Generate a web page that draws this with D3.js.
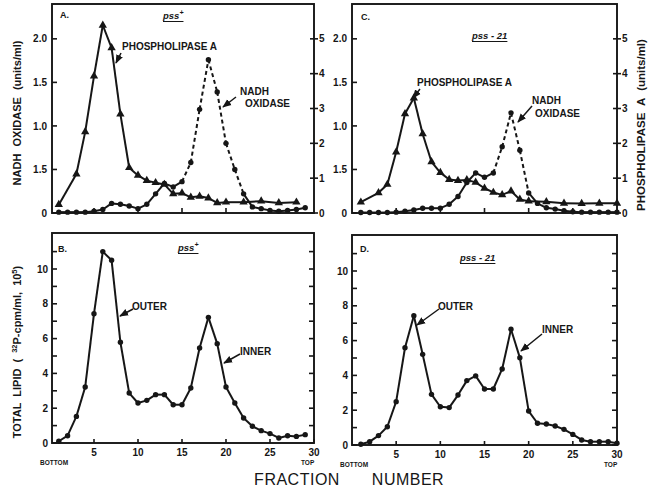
<!DOCTYPE html>
<html><head><meta charset="utf-8">
<script src="https://cdn.jsdelivr.net/npm/d3@7"></script>
<style>
body{margin:0;background:#fff}
svg text{font-family:"Liberation Sans",Arial,Helvetica,sans-serif;fill:#161616}
</style>
</head><body>
<svg id="chart" width="651" height="494"></svg>
<script>
// ---------- data ----------
const plaA_fractions = [1,3,4,5,6,7,8,9,10,11,12,13,14,15,16,17,18,19,20,22,24,26,28];
const plaA_values    = [0.24,1.12,2.33,3.93,5.39,4.74,2.84,1.30,1.08,0.93,0.87,0.82,0.55,0.57,0.45,0.48,0.43,0.29,0.31,0.31,0.34,0.29,0.31];
const nadhA_fractions = d3.range(1,30);
const nadhA_values    = [0.01,0.01,0.01,0.01,0.02,0.04,0.11,0.10,0.08,0.05,0.10,0.22,0.34,0.30,0.36,0.58,1.19,1.76,1.39,0.80,0.50,0.22,0.07,0.05,0.03,0.02,0.03,0.04,0.06];
const nadhA_dashed = [15,22];

const plaC_fractions = [1,3,4,5,6,7,8,9,10,11,12,13,14,15,16,17,18,19,20,22,24,26,28,30];
const plaC_values    = [0.31,0.58,0.82,1.75,2.85,3.30,2.27,1.47,1.16,0.96,0.93,0.95,0.88,0.71,0.59,0.52,0.63,0.39,0.34,0.32,0.28,0.27,0.28,0.28];
const nadhC_fractions = d3.range(1,31);
const nadhC_values    = [0.005,0.005,0.005,0.005,0.01,0.02,0.035,0.055,0.055,0.055,0.10,0.19,0.35,0.46,0.41,0.46,0.76,1.15,0.72,0.23,0.11,0.06,0.045,0.025,0.015,0.01,0.01,0.01,0.01,0.01];
const nadhC_dashed = [16,20];

const lipidB_fractions = d3.range(1,30);
const lipidB_values = [0.10,0.42,1.53,3.22,7.43,11.0,10.5,5.79,2.87,2.30,2.45,2.78,2.78,2.20,2.20,3.16,5.46,7.22,5.71,3.22,2.30,1.44,0.96,0.71,0.54,0.29,0.42,0.38,0.48];
const lipidD_fractions = d3.range(1,31);
const lipidD_values = [0.04,0.19,0.54,1.05,2.49,5.59,7.43,5.21,2.91,2.20,2.15,2.87,3.70,3.97,3.22,3.22,4.37,6.65,5.02,1.95,1.25,1.21,1.09,0.90,0.61,0.29,0.19,0.19,0.19,0.10];

const nadhTicks = [0,0.5,1.0,1.5,2.0];
const nadhTickLabels = ["0","1.5","1.0","1.5","2.0"];
const plaTicks = [0,1,2,3,4,5];
const lipidTicks = d3.range(0,12);
const lipidTickLabels = ["0","","2","","4","","6","","8","","10",""];
const fractionTicks = [5,10,15,20,25,30];

// ---------- drawing ----------
const svg = d3.select("#chart");
const INK = "#161616";

svg.append("defs").append("marker")
  .attr("id","ah").attr("viewBox","0 0 10 10").attr("refX",9).attr("refY",5)
  .attr("markerWidth",6).attr("markerHeight",6).attr("orient","auto-start-reverse")
  .append("path").attr("d","M0,1 L10,5 L0,9 z").attr("fill",INK);

function frame(g, x0, x1, y0, y1){
  g.append("rect").attr("x",x0).attr("y",y0).attr("width",x1-x0).attr("height",y1-y0)
   .attr("fill","none").attr("stroke",INK).attr("stroke-width",1.9);
}
function ticksY(g, scale, vals, xAxis, dir, len, labels, lx, anchor, fs){
  vals.forEach((v,i)=>{
    const y = scale(v);
    g.append("line").attr("x1",xAxis).attr("x2",xAxis+dir*len).attr("y1",y).attr("y2",y)
      .attr("stroke",INK).attr("stroke-width",1.6);
    if(labels && labels[i]!==""){
      g.append("text").attr("x",lx).attr("y",y+3.6).attr("text-anchor",anchor)
       .attr("font-size",fs||10).attr("font-weight","bold").text(labels[i]);
    }
  });
}
function ticksX(g, scale, vals, yAxis, len, labels, ly){
  vals.forEach((v,i)=>{
    const x = scale(v);
    g.append("line").attr("x1",x).attr("x2",x).attr("y1",yAxis).attr("y2",yAxis-len)
      .attr("stroke",INK).attr("stroke-width",1.6);
    if(labels){
      g.append("text").attr("x",x).attr("y",ly).attr("text-anchor","middle")
       .attr("font-size",10).attr("font-weight","bold").text(labels[i]);
    }
  });
}
function series(g, x, y, fr, vals, dashRange){
  const pts = fr.map((f,i)=>({f, v: vals[i]}));
  for(let i=0;i<pts.length-1;i++){
    const a=pts[i], b=pts[i+1];
    const dashed = dashRange && a.f>=dashRange[0] && b.f<=dashRange[1];
    g.append("line").attr("x1",x(a.f)).attr("y1",y(a.v)).attr("x2",x(b.f)).attr("y2",y(b.v))
     .attr("stroke",INK).attr("stroke-width",2)
     .attr("stroke-dasharray",dashed?"4,3":null);
  }
  return pts;
}
function circles(g,x,y,pts){
  g.selectAll(null).data(pts).enter().append("circle")
   .attr("cx",d=>x(d.f)).attr("cy",d=>y(d.v)).attr("r",2.7).attr("fill",INK);
}
function triangles(g,x,y,pts){
  g.selectAll(null).data(pts).enter().append("path")
   .attr("d",d3.symbol(d3.symbolTriangle,30))
   .attr("transform",d=>`translate(${x(d.f)},${y(d.v)})`).attr("fill",INK);
}
function label(g, x, y, txt, fs, weight){
  return g.append("text").attr("x",x).attr("y",y).attr("font-size",fs).attr("font-weight",weight||"bold").text(txt);
}
function arrow(g,x1,y1,x2,y2){
  g.append("line").attr("x1",x1).attr("y1",y1).attr("x2",x2).attr("y2",y2)
   .attr("stroke",INK).attr("stroke-width",1.5).attr("marker-end","url(#ah)");
}
function pss(g, x, y, kind){
  const t = g.append("text").attr("x",x).attr("y",y).attr("font-size",9.5).attr("font-style","italic").attr("font-weight","bold");
  if(kind==="+"){
    t.append("tspan").text("pss");
    t.append("tspan").attr("dy",-4).attr("font-size",7).text("+");
  } else {
    t.text("pss - 21");
  }
  const w = t.node().getComputedTextLength();
  g.append("line").attr("x1",x).attr("x2",x+w).attr("y1",y+2.5).attr("y2",y+2.5).attr("stroke",INK).attr("stroke-width",1);
}

// ---- top panels ----
function topPanel(x0,x1,xr0,xr1, nadhFr, nadhV, nadhDash, plaFr, plaV, rightLabelX){
  const g = svg.append("g");
  const x = d3.scaleLinear().domain([0,30]).range([xr0,xr1]);
  const yL = d3.scaleLinear().domain([0,2.4]).range([213,4]);
  const yR = d3.scaleLinear().domain([0,6]).range([213,4]);
  frame(g,x0,x1,4,213);
  ticksY(g,yL,nadhTicks,x0,1,5,nadhTickLabels,x0-5,"end");
  ticksY(g,yR,plaTicks,x1-4,1,8,plaTicks.map(String),rightLabelX,"start");
  ticksX(g,x,fractionTicks.slice(0,5),213,5,null,0);
  const pn = series(g,x,yL,nadhFr,nadhV,nadhDash);
  const pp = series(g,x,yR,plaFr,plaV,null);
  circles(g,x,yL,pn);
  triangles(g,x,yR,pp);
  return {g,x,yL,yR};
}
const A = topPanel(52,314,50,314,nadhA_fractions,nadhA_values,nadhA_dashed,plaA_fractions,plaA_values,319);
const C = topPanel(352,617,352,617,nadhC_fractions,nadhC_values,nadhC_dashed,plaC_fractions,plaC_values,622);

// annotations A
label(A.g,60,18,"A.",9);
pss(A.g,163,19,"+");
label(A.g,122,50,"PHOSPHOLIPASE A",10);
arrow(A.g,121,53,116,63);
label(A.g,240,95,"NADH",10);
label(A.g,245,107,"OXIDASE",10);
arrow(A.g,236,97,223,107);
// annotations C
label(C.g,361,20,"C.",9);
pss(C.g,472,39,"-");
label(C.g,417,86,"PHOSPHOLIPASE A",10);
arrow(C.g,420,89,413,98);
label(C.g,532,104,"NADH",10);
label(C.g,535,117,"OXIDASE",10);
arrow(C.g,532,106,518,122);

// ---- bottom panels ----
function bottomPanel(x0,x1,xr0,yTop,yBot,fr,vals){
  const g = svg.append("g");
  const x = d3.scaleLinear().domain([0,30]).range([xr0,x1]);
  const y = d3.scaleLinear().domain([0,(yBot-yTop)/17.4]).range([yBot,yTop]);
  frame(g,x0,x1,yTop,yBot);
  ticksY(g,y,lipidTicks,x0,1,5,lipidTickLabels,x0-4,"end");
  ticksY(g,y,lipidTicks,x1,-1,5,null,0,"end");
  ticksX(g,x,fractionTicks,yBot,4,fractionTicks.map(String),yBot+13);
  const pts = series(g,x,y,fr,vals,null);
  circles(g,x,y,pts);
  label(g,x0-12,yBot+22,"BOTTOM",6.5);
  label(g,x1-13,yBot+22,"TOP",6.5);
  return {g,x,y};
}
const B = bottomPanel(52,314,50,233,443,lipidB_fractions,lipidB_values);
const D = bottomPanel(352,617,352,235,445,lipidD_fractions,lipidD_values);

label(B.g,58,252,"B.",9);
pss(B.g,178,251,"+");
label(B.g,132,310,"OUTER",10);
arrow(B.g,133,309,120,316);
label(B.g,240,355,"INNER",10);
arrow(B.g,240,354,224,363);

label(D.g,360,252,"D.",9);
pss(D.g,460,261,"-");
label(D.g,438,310,"OUTER",10);
arrow(D.g,439,309,417,325);
label(D.g,542,333,"INNER",10);
arrow(D.g,542,334,521,351);

// ---- axis titles ----
svg.append("text").attr("transform","translate(21,113) rotate(-90)").attr("text-anchor","middle")
  .attr("font-size",11).attr("font-weight","bold").attr("word-spacing",4).text("NADH OXIDASE (units/ml)");
const tl = svg.append("text").attr("transform","translate(21,352) rotate(-90)").attr("text-anchor","middle")
  .attr("font-size",11).attr("font-weight","bold").attr("word-spacing",3);
tl.append("tspan").text("TOTAL LIPID ( ");
tl.append("tspan").attr("dy",-4).attr("font-size",7.5).text("32");
tl.append("tspan").attr("dy",4).text("P-cpm/ml, 10");
tl.append("tspan").attr("dy",-4).attr("font-size",7.5).text("5");
tl.append("tspan").attr("dy",4).text(")");
svg.append("text").attr("transform","translate(645,125) rotate(-90)").attr("text-anchor","middle")
  .attr("font-size",11.5).attr("font-weight","bold").attr("word-spacing",4).text("PHOSPHOLIPASE A (units/ml)");
svg.append("text").attr("x",297).attr("y",485).attr("text-anchor","middle").attr("font-size",16).attr("letter-spacing",0.5).text("FRACTION");
svg.append("text").attr("x",408).attr("y",485).attr("text-anchor","middle").attr("font-size",16).attr("letter-spacing",0.5).text("NUMBER");
</script>
</body></html>
